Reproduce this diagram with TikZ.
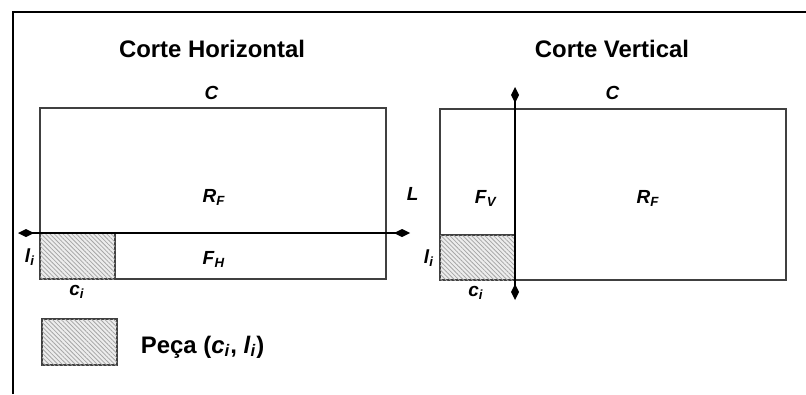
\documentclass[tikz,border=0pt]{standalone}
\usepackage{fontspec}
\setmainfont{Liberation Sans}
\usetikzlibrary{arrows.meta,patterns.meta}

\newcommand{\cutvar}[2]{\textbf{\textit{#1}}\textsubscript{\textbf{\textit{#2}}}}

\begin{document}
\begin{tikzpicture}[x=0.025cm, y=-0.025cm,
  frame/.style={line width=2pt},
  sheet/.style={draw=black!75, line width=0.8pt},
  piece/.style={draw=black!75, line width=0.8pt, fill=black!7, postaction={pattern={Lines[angle=-45,distance=2.2pt,line width=0.6pt]}, pattern color=black!35}},
  cut/.style={line width=1.4pt, {Diamond[length=4mm,width=2mm]}-{Diamond[length=4mm,width=2mm]}},
  title/.style={font=\fontsize{17}{20}\selectfont\bfseries},
  lbl/.style={font=\fontsize{13.5}{15}\selectfont, inner sep=0pt},
]
\useasboundingbox (0,0) rectangle (806,394);
\draw[frame] (13,394) -- (13,12) -- (806,12);
% === Left panel ===
\node[title] (htitle) at (212,49) {Corte Horizontal};
\draw[sheet] (40,108) rectangle (386,279);
\draw[piece] (40,233) rectangle (115,279);
\coordinate (hcutL) at (18,233);
\coordinate (hcutR) at (410,233);
\draw[cut] (hcutL) -- (hcutR);
\node[lbl] (hC) at (212,94) {\cutvar{C}{}};
\node[lbl] (hRF) at (214,197) {\cutvar{R}{F}};
\node[lbl] (hL) at (413,195) {\cutvar{L}{}};
\node[lbl] (hFH) at (214,259) {\cutvar{F}{H}};
\node[lbl] (hli) at (30,257) {\cutvar{l}{i}};
\node[lbl] (hci) at (77,292) {\cutvar{c}{i}};
% === Right panel ===
\node[title] (vtitle) at (612,49) {Corte Vertical};
\draw[sheet] (440,109) rectangle (786,280);
\draw[piece] (440,235) rectangle (515,280);
\coordinate (vcutT) at (515,87);
\coordinate (vcutB) at (515,300);
\draw[cut] (vcutT) -- (vcutB);
\node[lbl] (vC) at (613,94) {\cutvar{C}{}};
\node[lbl] (vFV) at (486,198) {\cutvar{F}{V}};
\node[lbl] (vRF) at (648,198) {\cutvar{R}{F}};
\node[lbl] (vli) at (429,258) {\cutvar{l}{i}};
\node[lbl] (vci) at (476,293) {\cutvar{c}{i}};
% === Legend ===
\draw[piece] (42,319) rectangle (117,365);
\node[title, anchor=west] (legtxt) at (136,347) {Peça (\textit{c}\textsubscript{\textit{i}}, \textit{l}\textsubscript{\textit{i}})};
\end{tikzpicture}
\end{document}
